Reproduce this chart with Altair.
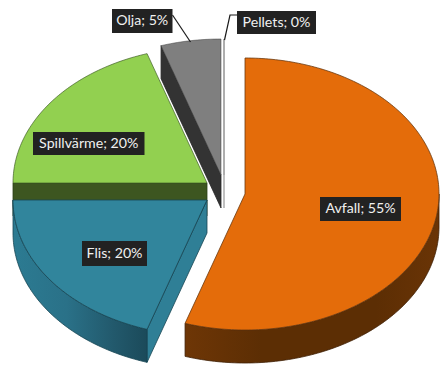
import math
import altair as alt
import pandas as pd

# Share of each heat source, clockwise from twelve o'clock
categories = ["Avfall", "Flis", "Spillvärme", "Olja", "Pellets"]
shares = [55, 20, 20, 5, 0]

# Drawing frame and the tilted disc
W, H = 440, 366
RX, RY, DEPTH = 194, 136, 33

# Exploded centre of every slice
centres = {
    "Avfall": (245, 194),
    "Flis": (207, 200),
    "Spillvärme": (207, 183),
    "Olja": (221, 175),
    "Pellets": (224, 175),
}
top_colours = {
    "Avfall": "#E46C0A",
    "Flis": "#31859C",
    "Spillvärme": "#92D050",
    "Olja": "#7F7F7F",
    "Pellets": "#D9D9D9",
}
edge_colours = {
    "Avfall": "#6B3A10",
    "Flis": "#174553",
    "Spillvärme": "#3F5F25",
    "Olja": "#3A3A3A",
    "Pellets": "#A6A6A6",
}

# Label boxes: left, right, top, bottom
boxes = {
    "Avfall": (320, 401, 197, 221),
    "Flis": (82, 147, 241, 266),
    "Spillvärme": (33, 144.5, 132, 155),
    "Olja": (112, 172.5, 9, 33),
    "Pellets": (237, 316, 11, 34),
}

# Leader lines from the small slices to their labels
leaders = {
    "Olja": [(172.5, 15), (190.5, 42)],
    "Pellets": [(237, 15), (230, 15), (224.5, 40)],
}

# Angular extent of each slice follows from its share
spans = {}
running = 0.0
for name, share in zip(categories, shares):
    spans[name] = (running, running + share * 3.6)
    running += share * 3.6


def rim(name, deg, drop=0.0):
    cx, cy = centres[name]
    t = math.radians(deg)
    return (cx + RX * math.sin(t), cy - RY * math.cos(t) + drop)


def arc(name, a, b, drop=0.0):
    n = max(1, int(abs(b - a)))
    return [rim(name, a + (b - a) * i / n, drop) for i in range(n + 1)]


def shape(points):
    ring = [list(p) for p in points]
    ring.append(ring[0])
    return {"type": "Feature", "properties": {}, "geometry": {"type": "Polygon", "coordinates": [ring]}}


def top_face(name):
    a, b = spans[name]
    return shape([centres[name]] + arc(name, a, b))


def outer_wall(name, a, b):
    return shape(arc(name, a, b) + arc(name, b, a, DEPTH))


def cut_wall(name, deg):
    cx, cy = centres[name]
    x, y = rim(name, deg)
    return shape([(cx, cy), (x, y), (x, y + DEPTH), (cx, cy + DEPTH)])


def poly(feature, fill, stroke, width=0.8):
    return (
        alt.Chart(alt.Data(values=[feature]))
        .mark_geoshape(fill=fill, stroke=stroke, strokeWidth=width)
        .project(type="identity", scale=1, translate=[0, 0])
    )


def ramp(*stops):
    return alt.Gradient(
        gradient="linear",
        x1=0, x2=1, y1=0, y2=0,
        stops=[alt.GradientStop(offset=o, color=c) for o, c in stops],
    )


# Painted back to front
layers = [
    poly(cut_wall("Olja", spans["Olja"][0]), "#333333", "#262626"),
    poly(top_face("Olja"), top_colours["Olja"], edge_colours["Olja"], 0.5),
    poly(cut_wall("Pellets", spans["Pellets"][0]), top_colours["Pellets"], edge_colours["Pellets"], 1.4),
    poly(top_face("Pellets"), top_colours["Pellets"], edge_colours["Pellets"], 1.4),
    poly(cut_wall("Spillvärme", spans["Spillvärme"][0]), "#3D5620", "#2C3F18"),
    poly(top_face("Spillvärme"), top_colours["Spillvärme"], edge_colours["Spillvärme"], 0.7),
    poly(cut_wall("Flis", spans["Flis"][0]), "#2F7F96", "#174553"),
    poly(
        outer_wall("Flis", spans["Flis"][0], spans["Flis"][1]),
        ramp((0, "#2C7B92"), (0.4, "#2A7188"), (0.75, "#22596C"), (1, "#1B4A5A")),
        "#174553",
    ),
    poly(top_face("Flis"), top_colours["Flis"], edge_colours["Flis"]),
    poly(
        outer_wall("Avfall", 90, spans["Avfall"][1]),
        ramp((0, "#6E3606"), (0.3, "#5C2E04"), (0.75, "#5C2E04"), (1, "#6A3406")),
        "#3F2005",
    ),
    poly(top_face("Avfall"), top_colours["Avfall"], edge_colours["Avfall"]),
]

x_scale = alt.Scale(domain=[0, W], range=[0, W], nice=False)
y_scale = alt.Scale(domain=[0, H], range=[0, H], nice=False)

# Leader lines
leader_rows = [
    {"name": name, "step": i, "x": x, "y": y}
    for name, points in leaders.items()
    for i, (x, y) in enumerate(points)
]
layers.append(
    alt.Chart(pd.DataFrame(leader_rows))
    .mark_line(color="#1A1A1A", strokeWidth=1.2)
    .encode(
        x=alt.X("x:Q", scale=x_scale, axis=None),
        y=alt.Y("y:Q", scale=y_scale, axis=None),
        detail="name:N",
        order="step:Q",
    )
)

# Dark label plates with the text on top
label_rows = [
    {
        "text": f"{name}; {share}%",
        "x0": boxes[name][0],
        "x1": boxes[name][1],
        "y0": boxes[name][2],
        "y1": boxes[name][3],
        "xc": (boxes[name][0] + boxes[name][1]) / 2,
        "yc": (boxes[name][2] + boxes[name][3]) / 2,
    }
    for name, share in zip(categories, shares)
]
labels = pd.DataFrame(label_rows)
layers.append(
    alt.Chart(labels)
    .mark_rect(color="#222222")
    .encode(
        x=alt.X("x0:Q", scale=x_scale, axis=None),
        x2="x1:Q",
        y=alt.Y("y0:Q", scale=y_scale, axis=None),
        y2="y1:Q",
    )
)
layers.append(
    alt.Chart(labels)
    .mark_text(font="Lato", fontSize=14.2, color="#F0F0F0", align="center", baseline="middle")
    .encode(
        x=alt.X("xc:Q", scale=x_scale, axis=None),
        y=alt.Y("yc:Q", scale=y_scale, axis=None),
        text="text:N",
    )
)

chart = (
    alt.layer(*layers)
    .properties(width=W, height=H, padding=0, autosize=alt.AutoSizeParams(type="none"), background="white")
    .configure_view(stroke=None)
)

chart.save("out.html", embed_options={"renderer": "svg", "actions": False})
